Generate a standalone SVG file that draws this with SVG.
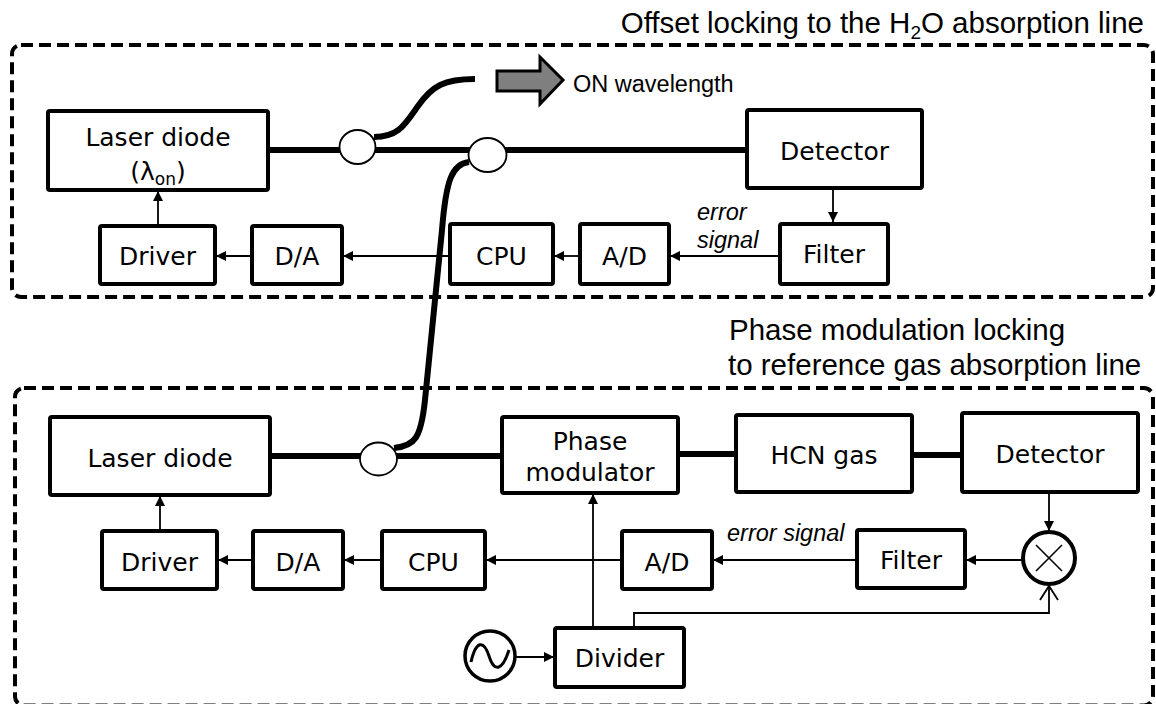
<svg xmlns="http://www.w3.org/2000/svg" width="1156" height="704" viewBox="0 0 1156 704">
<style>
.box{fill:#fff;stroke:#000;stroke-width:4;}
.lbl{font-family:"DejaVu Sans",Verdana,sans-serif;font-size:25px;fill:#000;text-anchor:middle;}
.ttl{font-family:"Liberation Sans",Arial,sans-serif;font-size:29.5px;fill:#000;}
.it{font-family:"Liberation Sans",Arial,sans-serif;font-size:23.5px;font-style:italic;fill:#000;}
.fiber{fill:none;stroke:#000;stroke-width:6;}
.sig{fill:none;stroke:#000;stroke-width:1.8;}
.dash{fill:none;stroke:#000;stroke-width:4;stroke-dasharray:12 6;}
.cpl{fill:#fff;stroke:#000;stroke-width:1.8;}
</style>
<defs>
<marker id="ah" viewBox="0 0 10 10" refX="10" refY="5" markerWidth="10" markerHeight="10" markerUnits="userSpaceOnUse" orient="auto">
<path d="M0,0 L10,5 L0,10 z" fill="#000"/>
</marker>
</defs>
<rect width="1156" height="704" fill="#fff"/>

<g id="frames">
<rect class="dash" x="12" y="45" width="1141" height="252" rx="9"/>
<rect x="15" y="388" width="1138" height="317.5" rx="9" fill="none" stroke="#000" stroke-width="4" stroke-dasharray="12 6"/>
</g>

<g id="titles">
<text class="ttl" x="1144" y="33" text-anchor="end">Offset locking to the H<tspan font-size="19" dy="6">2</tspan><tspan dy="-6">O absorption line</tspan></text>
<text class="ttl" x="729" y="340">Phase modulation locking</text>
<text class="ttl" x="728" y="375">to reference gas absorption line</text>
</g>

<g id="connectors">
<line class="fiber" x1="268" y1="150" x2="747" y2="150"/>
<path class="fiber" d="M374 137 C398 137 404 126 418 106 C432 86 444 79 475 79"/>
<path class="fiber" d="M469 162 C452 164 446 180 442 230 L425 400 C421 438 415 446 394 448"/>
<line class="fiber" x1="270" y1="456" x2="502" y2="456"/>
<line class="fiber" x1="678" y1="454" x2="736" y2="454"/>
<line class="fiber" x1="912" y1="455" x2="962" y2="455"/>
<line class="sig" x1="158" y1="226" x2="158" y2="191" marker-end="url(#ah)"/>
<line class="sig" x1="252" y1="256" x2="216" y2="256" marker-end="url(#ah)"/>
<line class="sig" x1="450" y1="256" x2="343" y2="256" marker-end="url(#ah)"/>
<line class="sig" x1="580" y1="256" x2="554" y2="256" marker-end="url(#ah)"/>
<line class="sig" x1="780" y1="256" x2="670" y2="256" marker-end="url(#ah)"/>
<line class="sig" x1="833" y1="188" x2="833" y2="222" marker-end="url(#ah)"/>
<line class="sig" x1="160" y1="531" x2="160" y2="496" marker-end="url(#ah)"/>
<line class="sig" x1="253" y1="560" x2="218" y2="560" marker-end="url(#ah)"/>
<line class="sig" x1="382" y1="560" x2="344" y2="560" marker-end="url(#ah)"/>
<line class="sig" x1="622" y1="560" x2="486" y2="560" marker-end="url(#ah)"/>
<line class="sig" x1="857" y1="560" x2="713" y2="560" marker-end="url(#ah)"/>
<line class="sig" x1="1023" y1="560" x2="966" y2="560" marker-end="url(#ah)"/>
<line class="sig" x1="1049" y1="492" x2="1049" y2="531" marker-end="url(#ah)"/>
<line class="sig" x1="593" y1="628" x2="593" y2="494" marker-end="url(#ah)"/>
<line class="sig" x1="516" y1="657" x2="554" y2="657" marker-end="url(#ah)"/>
<path class="sig" d="M634 628 V613 H1049 V586"/>
<path class="sig" d="M1040 600 L1049 586 L1058 600"/>
</g>

<g id="laser-top">
<rect class="box" x="48" y="111" width="220" height="79" rx="2"/>
<text class="lbl" x="158" y="146">Laser diode</text>
<text class="lbl" x="158" y="180">(λ<tspan font-size="17" dy="5">on</tspan><tspan dy="-5">)</tspan></text>
</g>
<g id="coupler-1"><ellipse class="cpl" cx="357.5" cy="147" rx="18" ry="17"/></g>
<g id="coupler-2"><ellipse class="cpl" cx="487.5" cy="155" rx="19" ry="17"/></g>
<g id="output-arrow">
<path d="M497 71 H540 V57 L563 80 L540 104 V91 H497 Z" fill="#7f7f7f" stroke="#000" stroke-width="3" stroke-linejoin="miter"/>
<text class="it" style="font-style:normal" x="573" y="92">ON wavelength</text>
</g>
<g id="detector-top">
<rect class="box" x="747" y="110" width="175" height="78" rx="2"/>
<text class="lbl" x="834.5" y="160">Detector</text>
</g>
<g id="filter-top">
<rect class="box" x="780" y="224" width="108" height="60" rx="2"/>
<text class="lbl" x="834" y="263">Filter</text>
</g>
<g id="ad-top">
<rect class="box" x="580" y="224" width="89" height="60" rx="2"/>
<text class="lbl" x="624.5" y="265">A/D</text>
</g>
<g id="cpu-top">
<rect class="box" x="450" y="224" width="103" height="60" rx="2"/>
<text class="lbl" x="501.5" y="265">CPU</text>
</g>
<g id="da-top">
<rect class="box" x="252" y="226" width="90" height="58" rx="2"/>
<text class="lbl" x="297" y="265">D/A</text>
</g>
<g id="driver-top">
<rect class="box" x="100" y="226" width="115" height="58" rx="2"/>
<text class="lbl" x="157.5" y="265">Driver</text>
</g>
<g id="error-top">
<text class="it" x="697" y="220">error</text>
<text class="it" x="697" y="248">signal</text>
</g>

<g id="laser-bottom">
<rect class="box" x="50" y="417" width="220" height="78" rx="2"/>
<text class="lbl" x="160" y="467">Laser diode</text>
</g>
<g id="coupler-3"><ellipse class="cpl" cx="378.5" cy="459" rx="18.5" ry="16.5"/></g>
<g id="phase-modulator">
<rect class="box" x="502" y="417" width="176" height="76" rx="2"/>
<text class="lbl" x="590" y="450">Phase</text>
<text class="lbl" x="590" y="481">modulator</text>
</g>
<g id="hcn">
<rect class="box" x="736" y="415" width="176" height="77" rx="2"/>
<text class="lbl" x="824" y="464">HCN gas</text>
</g>
<g id="detector-bottom">
<rect class="box" x="962" y="413" width="176" height="79" rx="2"/>
<text class="lbl" x="1050" y="463">Detector</text>
</g>
<g id="mixer">
<circle cx="1049" cy="558" r="26" fill="#fff" stroke="#000" stroke-width="4"/>
<path d="M1036 545 L1062 571 M1062 545 L1036 571" stroke="#000" stroke-width="1.6"/>
</g>
<g id="filter-bottom">
<rect class="box" x="857" y="530" width="108" height="58" rx="2"/>
<text class="lbl" x="911" y="569">Filter</text>
</g>
<g id="ad-bottom">
<rect class="box" x="622" y="531" width="90" height="58" rx="2"/>
<text class="lbl" x="667" y="571">A/D</text>
</g>
<g id="cpu-bottom">
<rect class="box" x="382" y="531" width="103" height="58" rx="2"/>
<text class="lbl" x="433.5" y="571">CPU</text>
</g>
<g id="da-bottom">
<rect class="box" x="253" y="531" width="90" height="58" rx="2"/>
<text class="lbl" x="298" y="571">D/A</text>
</g>
<g id="driver-bottom">
<rect class="box" x="102" y="531" width="115" height="58" rx="2"/>
<text class="lbl" x="159.5" y="571">Driver</text>
</g>
<g id="error-bottom">
<text class="it" x="727" y="541">error signal</text>
</g>
<g id="oscillator">
<circle cx="490" cy="656" r="25" fill="#fff" stroke="#000" stroke-width="3.5"/>
<path d="M471 662 C476 640 484 640 489 656 C494 672 502 672 509 650" fill="none" stroke="#000" stroke-width="3"/>
</g>
<g id="divider">
<rect class="box" x="555" y="628" width="129" height="59" rx="2"/>
<text class="lbl" x="619.5" y="667">Divider</text>
</g>
</svg>
